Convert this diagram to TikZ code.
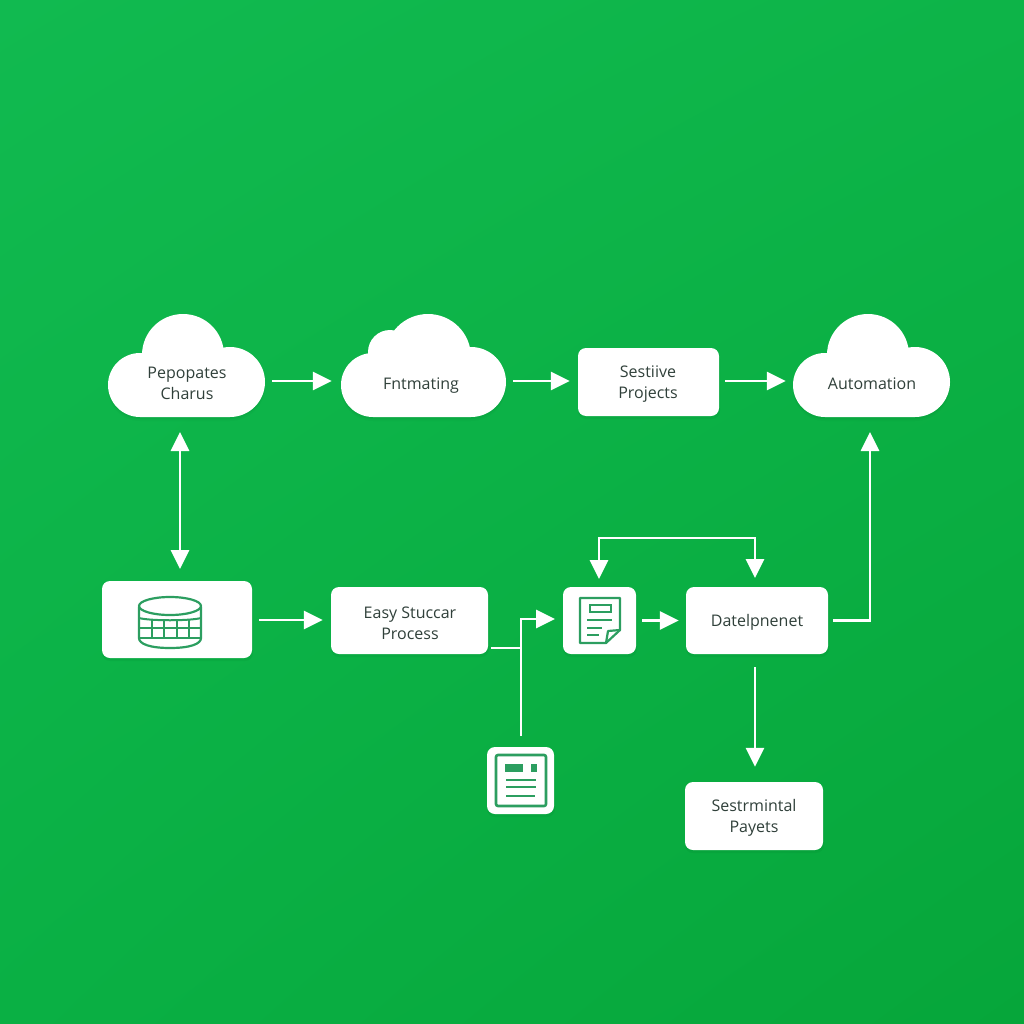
\documentclass[tikz,border=0pt]{standalone}
\usepackage{fontspec}
\setmainfont{Open Sans}
\usetikzlibrary{arrows.meta,calc,shadings}
\definecolor{bgTL}{RGB}{17,186,80}
\definecolor{bgTR}{RGB}{13,180,72}
\definecolor{bgBL}{RGB}{10,176,68}
\definecolor{bgBR}{RGB}{6,166,58}
\definecolor{ink}{RGB}{48,64,58}
\definecolor{icon}{RGB}{44,158,96}
\definecolor{shadowc}{RGB}{0,110,40}
\tikzset{
  card/.style={fill=white,rounded corners=8pt,inner sep=0pt,align=center,font=\fontsize{16}{21}\selectfont,text=ink},
  cloudlabel/.style={inner sep=0pt,align=center,font=\fontsize{16}{21}\selectfont,text=ink},
  flow/.style={draw=white,line width=2.8pt,-{Triangle[length=19pt,width=18pt]}},
  flowboth/.style={draw=white,line width=2.8pt,{Triangle[length=19pt,width=18pt]}-{Triangle[length=19pt,width=18pt]}},
  plain/.style={draw=white,line width=2.8pt},
  ic/.style={draw=icon,line width=2.2pt,line join=round},
  icthin/.style={draw=icon,line width=2pt},
  soft/.style={fill=shadowc,opacity=0.10},
}
% cloud with a single top lobe: #1 = left x
\newcommand{\cloudOne}[1]{%
  \begin{scope}[shift={(#1,0)}]
    \foreach \dd/\op in {4/0.05,2/0.08}{
      \fill[shadowc,opacity=\op] (32,385+\dd) circle[radius=32] (122,382+\dd) circle[radius=35]
        (75,355+\dd) circle[radius=41] (122,360+\dd) rectangle (32,417+\dd);
    }
    \fill[white] (32,385) circle[radius=32] (122,382) circle[radius=35]
      (75,355) circle[radius=41] (122,360) rectangle (32,417);
  \end{scope}}
\newcommand{\cloudTwo}[1]{%
  \begin{scope}[shift={(#1,0)}]
    \foreach \dd/\op in {4/0.05,2/0.08}{
      \fill[shadowc,opacity=\op] (33,385+\dd) circle[radius=32] (131,382+\dd) circle[radius=35]
        (88,357+\dd) circle[radius=43] (50,352+\dd) circle[radius=22] (131,362+\dd) rectangle (33,417+\dd);
    }
    \fill[white] (33,385) circle[radius=32] (131,382) circle[radius=35]
      (88,357) circle[radius=43] (50,352) circle[radius=22] (131,362) rectangle (33,417);
  \end{scope}}
\begin{document}
\begin{tikzpicture}[x=1pt,y=-1pt]
\useasboundingbox (0,0) rectangle (1024,1024);
\shade[upper left=bgTL,upper right=bgTR,lower left=bgBL,lower right=bgBR] (0,0) rectangle (1024,1024);

% soft shadows under the cards
\foreach \xa/\ya/\xb/\yb in {578/348/719/416,102/581/252/658,331/587/488/654,563/587/636/654,686/587/828/654,685/782/823/850,487/747/554/814}{
  \fill[soft,rounded corners=8pt] (\xa,\ya+3) rectangle (\xb+1,\yb+3);
}

% clouds
\cloudOne{108}
\cloudTwo{340}
\cloudOne{793}
\node[cloudlabel,minimum width=157pt,minimum height=103pt] (c1) at (186.5,365.5) {};
\node[cloudlabel] (c1t) at (187,383.5) {Pepopates\\Charus};
\node[cloudlabel,minimum width=166pt,minimum height=103pt] (c2) at (423,365.5) {};
\node[cloudlabel] (c2t) at (421,385.5) {Fntmating};
\node[cloudlabel,minimum width=156pt,minimum height=103pt] (c3) at (871,365.5) {};
\node[cloudlabel] (c3t) at (872,384) {Automation};

% cards
\node[card,minimum width=141pt,minimum height=68pt] (r1) at (648.5,382) {};
\node[cloudlabel] (r1t) at (648,384) {Sestiive\\Projects};
\node[card,minimum width=150pt,minimum height=77pt] (r2) at (177,619.5) {};
\node[card,minimum width=157pt,minimum height=67pt] (r3) at (409.5,620.5) {};
\node[cloudlabel] (r3t) at (410,623) {Easy Stuccar\\Process};
\node[card,minimum width=73pt,minimum height=67pt] (r4) at (599.5,620.5) {};
\node[card,minimum width=142pt,minimum height=67pt] (r5) at (757,620.5) {};
\node[cloudlabel] (r5t) at (757,622.5) {Datelpnenet};
\node[card,minimum width=138pt,minimum height=68pt] (r6) at (754,816) {};
\node[cloudlabel] (r6t) at (754,817.5) {Sestrmintal\\Payets};
\node[card,minimum width=67pt,minimum height=67pt] (r7) at (520.5,780.5) {};

% database icon
\draw[ic,fill=white] (139,607) -- (139,638) .. controls (139,644) and (150,648) .. (170,648) .. controls (190,648) and (201,644) .. (201,638) -- (201,607);
\draw[ic] (170,606) ellipse[x radius=31,y radius=9];
\draw[icthin] (139,618) .. controls (150,621) and (190,621) .. (201,618);
\draw[icthin] (139,628) -- (201,628);
\draw[icthin] (139,638) -- (201,638);
\foreach \vx in {152,164,177,189}{\draw[icthin] (\vx,620) -- (\vx,638);}

% document icon in r4
\draw[ic] (580,598) -- (620,598) -- (620,630) -- (606,643) -- (580,643) -- cycle;
\draw[ic] (620,630) -- (608,631) -- (606,643);
\draw[icthin] (590,605) rectangle (611,612);
\draw[icthin] (587,620) -- (612,620);
\draw[icthin] (587,628) -- (602,628);
\draw[icthin] (587,635) -- (599,635);

% form icon in r7
\draw[icon,line width=2.6pt,rounded corners=2pt] (496,755) rectangle (546,806);
\fill[icon] (505,764) rectangle (523,772);
\fill[icon] (531,764) rectangle (537,772);
\draw[icthin] (506,780) -- (536,780);
\draw[icthin] (506,787) -- (536,787);
\draw[icthin] (506,796) -- (535,796);

% free ends and bends
\coordinate (jn) at (521,648);
\coordinate (feed) at (521,736);
\coordinate (r4in) at (555,619);
\coordinate (topl) at (599,538);
\coordinate (topr) at (755,538);

% connectors
\draw[flow,shorten <=7pt,shorten >=8pt] (c1.east|-0,381) -- (c2.west|-0,381);
\draw[flow,shorten <=7pt,shorten >=8pt] (c2.east|-0,381) -- (r1.west|-0,381);
\draw[flow,shorten <=6pt,shorten >=7pt] (r1.east|-0,381) -- (c3.west|-0,381);
\draw[flowboth,shorten <=15pt,shorten >=12pt] (180,417) -- (180,581);
\draw[flow,shorten <=7pt,shorten >=8pt] (r2.east|-0,620) -- (r3.west|-0,620);
\draw[plain,shorten <=3pt] (r3.east|-jn) -- (jn);
\draw[flow] (feed) -- (jn) -- (jn|-r4in) -- (r4in);
\draw[flow,shorten <=6pt,shorten >=7pt] (r4.east) -- (r5.west);
\draw[flowboth] (topl|-0,579) -- (topl) -- (topr) -- (topr|-0,578);
\draw[flow,shorten <=5pt,shorten >=15pt] (r5.east) -| (870,417);
\draw[flow,shorten <=13pt,shorten >=15pt] (r5.south-|topr) -- (r6.north-|topr);
\end{tikzpicture}
\end{document}
